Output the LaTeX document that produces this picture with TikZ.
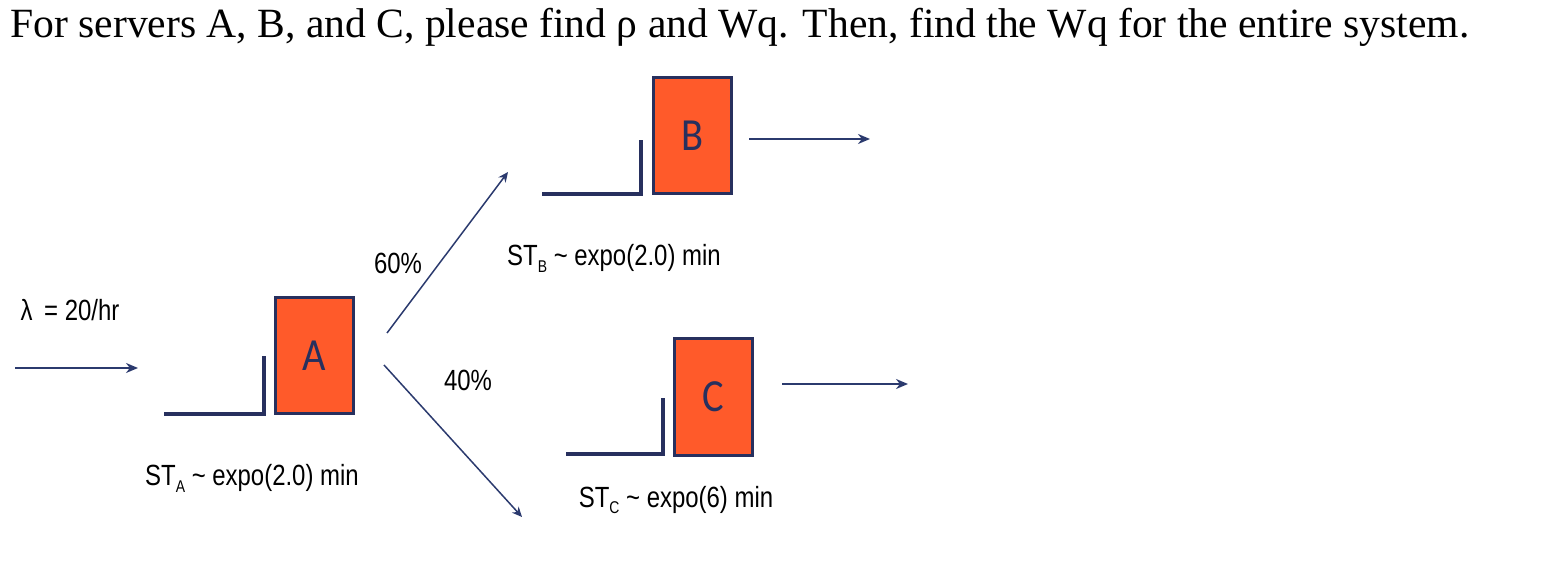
\documentclass[tikz,border=0pt]{standalone}
\usepackage{fontspec}
\setmainfont{Liberation Serif}
\newfontfamily\lblfont[FakeStretch=0.82]{Liberation Sans}
\newfontfamily\boxfont[FakeStretch=0.88]{Carlito}
\usetikzlibrary{arrows.meta}
\definecolor{srvfill}{HTML}{FF5A2A}
\definecolor{navy}{HTML}{27305E}
\definecolor{linecol}{HTML}{2B3A6E}
\newcommand{\subl}[1]{\raisebox{-0.45ex}{\fontsize{8.5}{9}\selectfont #1}}
\begin{document}
\begin{tikzpicture}[x=0.5pt,y=-0.5pt,
 server/.style={draw=navy, line width=1.5pt, fill=srvfill, minimum width=39pt, minimum height=58pt, inner sep=0pt, font=\boxfont\fontsize{23}{23}\selectfont, text=navy},
 queue/.style={draw=navy, line width=1.6pt},
 flow/.style={draw=linecol, line width=1.1pt, -{Stealth[length=6pt,width=5pt]}},
 route/.style={draw=linecol, line width=0.75pt, -{Stealth[length=5pt,width=4.5pt]}},
 lbl/.style={font=\lblfont\fontsize{14.6}{16}\selectfont, text=black, inner sep=0pt},
 ]
\useasboundingbox (0,0) rectangle (1552,566);
\node[anchor=base west, inner sep=0pt, font=\fontsize{20.8}{23}\selectfont] (title) at (10,38) {For servers A, B, and C, please find ρ and Wq. Then, find the Wq for the entire system.};

% servers
\node[server] (A) at (314,356) {A};
\node[server] (B) at (692,135.5) {B};
\node[server] (C) at (713.5,397) {C};

% queues
\draw[queue] (164,414) -- (264,414) -- (264,356);
\draw[queue] (542,194) -- (641,194) -- (641,140);
\draw[queue] (566,454) -- (663,454) -- (663,398);

% labels
\node[lbl] (lam) at (70,310) {λ\, = 20/hr};
\node[lbl] (stA) at (252,478) {ST\subl{A} \textasciitilde\ expo(2.0) min};
\node[lbl] (stB) at (614,258) {ST\subl{B} \textasciitilde\ expo(2.0) min};
\node[lbl] (stC) at (676,500) {ST\subl{C} \textasciitilde\ expo(6) min};
\node[lbl] (p60) at (398,263) {60\%};
\node[lbl] (p40) at (468,380) {40\%};

% arrow end points
\coordinate (inS) at (15,368);
\coordinate (inE) at (138,368);
\coordinate (bS) at (749,139);
\coordinate (bE) at (870,139);
\coordinate (cS) at (782,384);
\coordinate (cE) at (908,384);
\coordinate (rbS) at (387,333);
\coordinate (rbE) at (508,172);
\coordinate (rcS) at (384,365);
\coordinate (rcE) at (522,517);

\draw[flow] (inS) -- (inE);
\draw[flow] (bS) -- (bE);
\draw[flow] (cS) -- (cE);
\draw[route] (rbS) -- (rbE);
\draw[route] (rcS) -- (rcE);
\end{tikzpicture}
\end{document}
